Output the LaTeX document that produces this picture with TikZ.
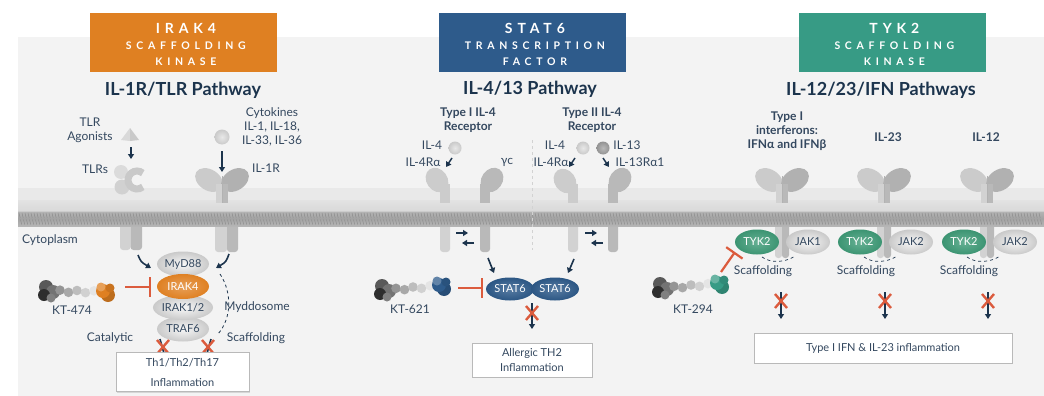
\documentclass[tikz,border=0pt]{standalone}
\usepackage{fontspec}
\setmainfont{Lato}
\usetikzlibrary{arrows.meta,shapes.geometric,shadows}

\definecolor{navy}{HTML}{1C344D}
\definecolor{ink}{HTML}{34485F}
\definecolor{irakc}{HTML}{DF8022}
\definecolor{statc}{HTML}{2E5B8B}
\definecolor{tykc}{HTML}{379B85}
\definecolor{tykprot}{HTML}{3F9C78}
\definecolor{redc}{HTML}{DB5B3D}
\definecolor{panel}{HTML}{F3F3F3}
\definecolor{lobeL}{HTML}{CBCBCB}
\definecolor{lobeR}{HTML}{B1B1B1}
\definecolor{stalkL}{HTML}{D2D2D2}
\definecolor{stalkR}{HTML}{B9B9B9}

\tikzset{
  lbl/.style={text=ink, font=\fontsize{12}{14}\selectfont, align=center, inner sep=0},
  lblb/.style={lbl, font=\fontsize{12}{14}\selectfont\bfseries},
  ttl/.style={text=navy, font=\fontsize{18}{20}\selectfont\bfseries, inner sep=0},
  hdrbox/.style={minimum width=187, minimum height=59, inner sep=0},
  hdrbig/.style={text=white, font=\fontsize{14}{16}\selectfont\bfseries\addfontfeature{LetterSpace=35}, inner sep=0, xshift=2.4},
  hdrsmall/.style={text=white, font=\fontsize{10.5}{12}\selectfont\bfseries\addfontfeature{LetterSpace=45}, inner sep=0, xshift=2.4},
  arr/.style={draw=navy, line width=1.6pt, -{Triangle[width=6pt,length=5pt]}},
  inhibit/.style={draw=redc, line width=2.2pt, -{Bar[width=20pt,line width=2.2pt]}},
  xmark/.style={draw=redc, line width=2.4pt},
  prot/.style={ellipse, minimum width=52, minimum height=25, inner sep=0, font=\fontsize{11}{12}\selectfont},
  greyprot/.style={prot, inner color=white!94!gray, outer color=gray!42, text=ink},
  outbox/.style={draw=gray!55, fill=white, line width=0.8pt, inner sep=0,
    drop shadow={opacity=0.25, shadow xshift=1pt, shadow yshift=-1pt},
    align=center, text=ink, font=\fontsize{11}{15}\selectfont},
  ligand/.style={circle, minimum size=13, inner sep=0, inner color=gray!18, outer color=gray!42},
  darkligand/.style={ligand, inner color=gray!55, outer color=gray!85},
}

% receptor with two leaf-shaped lobes above the membrane, stalk at x = #1
\newcommand\leafreceptor[1]{%
  \fill[lobeL, rotate around={-32:(#1-13,180)}] (#1-13,180) ellipse [x radius=15, y radius=10.5];
  \fill[lobeR, rotate around={32:(#1+13,180)}] (#1+13,180) ellipse [x radius=15, y radius=10.5];
  \fill[stalkL] (#1-6,184) rectangle (#1,203);
  \fill[stalkR] (#1,184) rectangle (#1+6,203);
  \draw[gray!60, line width=0.6] (#1,176) -- (#1,203);
}
% single-chain receptor: stalk at x = #1, head centre (#2,#3), tilt #4, colour #5
\newcommand\lollireceptor[5]{%
  \fill[#5] (#1-5,184) rectangle (#1+5,203);
  \fill[#5, rotate around={#4:(#2,#3)}] (#2,#3) ellipse [x radius=10.5, y radius=13];
}
% intracellular stalk between x = #1 and #2, down to y = #3, shade #4
\newcommand\lowstalk[4]{%
  \fill[#4, rounded corners=3] (#1,212) rectangle (#2,#3);
}
% bivalent degrader: dark ligand at (#1,#2), linker, warhead at (#3,#4) in colour #5
\newcommand\degrader[5]{%
  \fill[black!65] (#1-3,#2-4) circle (7);
  \fill[black!55] (#1+4,#2+1) circle (7);
  \fill[black!82] (#1-5,#2+4) circle (6);
  \fill[black!50] (#1+2,#2+7) circle (4.5);
  \foreach \k in {0,...,4}{
    \pgfmathsetmacro\lx{#1+11+\k*(#3-#1-22)/4}
    \pgfmathsetmacro\ly{#2+(#4-#2)*(\k+1)/6+mod(\k,2)*2-1}
    \pgfmathsetmacro\lc{int(42-8*\k)}
    \fill[black!\lc] (\lx,\ly) circle (4.8);
  }
  \fill[#5!85!black] (#3+3,#4+3) circle (7);
  \fill[#5] (#3-2,#4-1) circle (7);
  \fill[#5!75!white] (#3-4,#4-5) circle (4.5);
  \fill[#5!90!black] (#3+5,#4-4) circle (4.5);
}
% blocked signal: arrow #1a -> #1b with a red cross at (#6,#7)
\newcommand\blocked[7]{%
  \coordinate (#1a) at (#2,#3);
  \coordinate (#1b) at (#4,#5);
  \draw[arr] (#1a) -- (#1b);
  \draw[xmark] (#6-6,#7-7) -- (#6+6,#7+7) (#6-6,#7+7) -- (#6+6,#7-7);
}

\begin{document}
\begin{tikzpicture}[x=1pt,y=-1pt]
\useasboundingbox (0,0) rectangle (1044,396);
\fill[white] (0,0) rectangle (1044,396);
\fill[panel] (18,37) rectangle (1044,396);

% ---------- intracellular receptor stalks ----------
\lowstalk{120}{130.5}{250}{stalkL}
\lowstalk{130.5}{142}{250}{stalkR}
\lowstalk{215}{227}{252}{stalkL}
\lowstalk{227}{238}{252}{stalkR}
\lowstalk{440}{450}{252}{stalkL}
\lowstalk{480}{490}{252}{stalkR}
\lowstalk{568}{578}{252}{stalkL}
\lowstalk{608}{618}{252}{stalkR}
\foreach \sx in {782,884,987}{
  \lowstalk{\sx-7}{\sx}{258}{stalkL}
  \lowstalk{\sx}{\sx+7}{258}{stalkR}
}

% ---------- membrane ----------
\fill[gray!17] (18,188) rectangle (1044,200);
\shade[top color=gray!22, bottom color=gray!30] (18,200) rectangle (1044,211);
\shade[top color=gray!58, bottom color=gray!58, middle color=gray!72] (18,211) rectangle (1044,226);
\foreach \i in {0,...,340}{
  \draw[black!45, line width=0.5] (19+3*\i,213) -- ++(1.2,5);
  \draw[black!45, line width=0.5] (20.5+3*\i,219.5) -- ++(1.2,5);
}
\draw[gray!40, line width=0.5] (18,211) -- (1044,211);

% ---------- header boxes ----------
\node[hdrbox, fill=irakc] (irakbox) at (183.5,42.5) {};
\node[hdrbig] (irakname) at (183.5,28) {IRAK4};
\node[hdrsmall] (irakrole) at (183.5,46) {SCAFFOLDING};
\node[hdrsmall] (irakkind) at (183.5,62) {KINASE};

\node[hdrbox, fill=statc] (statbox) at (532.5,42.5) {};
\node[hdrbig] (statname) at (532.5,28) {STAT6};
\node[hdrsmall] (statrole) at (532.5,46) {TRANSCRIPTION};
\node[hdrsmall] (statkind) at (532.5,62) {FACTOR};

\node[hdrbox, fill=tykc] (tykbox) at (892,42.5) {};
\node[hdrbig] (tykname) at (892,28) {TYK2};
\node[hdrsmall] (tykrole) at (892,46) {SCAFFOLDING};
\node[hdrsmall] (tykkind) at (892,62) {KINASE};

\node[ttl] (irakttl) at (183,90) {IL-1R/TLR Pathway};
\node[ttl] (statttl) at (530,89) {IL-4/13 Pathway};
\node[ttl] (tykttl) at (881,90) {IL-12/23/IFN Pathways};

% ================= IL-1R / TLR =================
\node[lbl] (tlragon) at (90,130) {TLR\\Agonists};
\fill[gray!30] (121,140) -- (130,128) -- (130,141) -- cycle;
\fill[gray!42] (130,128) -- (139,140) -- (130,141) -- cycle;
\coordinate (tlrin) at (131,147);
\coordinate (tlrtop) at (131,159);
\draw[arr] (tlrin) -- (tlrtop);
\node[lbl] (tlrs) at (95,169) {TLRs};
% toll-like receptor ectodomain
\fill[gray!28] (121,172) circle (7);
\fill[gray!36] (122,187) circle (7.5);
\draw[gray!42, line width=7pt] (137,180) ++(50:9) arc[start angle=50, end angle=310, radius=9];

\node[ligand, minimum size=15] (il1lig) at (222,137) {};
\coordinate (il1in) at (222,151);
\coordinate (il1top) at (222,172);
\draw[arr] (il1in) -- (il1top);
\node[lbl] (cytok) at (272,127) {Cytokines\\IL-1, IL-18,\\IL-33, IL-36};
\node[lbl] (il1rlbl) at (266,168) {IL-1R};
\leafreceptor{222}

\node[lbl] (cyto) at (50,240) {Cytoplasm};

% myddosome
\node[greyprot] (traf6) at (183,329) {TRAF6};
\node[greyprot] (irak12) at (183,307.5) {IRAK1/2};
\node[greyprot] (myd88) at (183,264) {MyD88};
\node[prot, inner color=irakc!75!white, outer color=irakc, text=white] (irak4) at (183,286.5) {IRAK4};

\coordinate (tlrout) at (138,255);
\coordinate (tlrend) at (151,268);
\draw[arr] (tlrout) .. controls (141,262) .. (tlrend);
\coordinate (il1out) at (229,254);
\coordinate (il1end) at (216,268);
\draw[arr] (il1out) .. controls (226,262) .. (il1end);

\degrader{49}{291}{105}{292}{irakc}
\node[lbl] (kt474) at (72,310) {KT-474};
\coordinate (kt474arm) at (125,287);
\coordinate (kt474stop) at (151,287);
\draw[inhibit] (kt474arm) -- (kt474stop);

\coordinate (mydtop) at (220,274);
\coordinate (mydbot) at (218,334);
\draw[navy, dashed, line width=0.8] (mydtop) .. controls (232,292) and (232,318) .. (mydbot);
\node[lbl] (myddo) at (257,307) {Myddosome};
\node[lbl] (catal) at (110,338) {Catalytic};
\node[lbl] (scaf1) at (256,338) {Scaffolding};

\blocked{cat}{160}{339}{165}{357}{163}{347}
\blocked{scf}{211}{339}{206}{357}{208}{347}
\node[outbox, minimum width=133, minimum height=39, font=\fontsize{11}{20}\selectfont] (thbox) at (182.5,372) {Th1/Th2/Th17\\Inflammation};

% ================= IL-4 / IL-13 =================
\node[lblb] (type1) at (468,120) {Type I IL-4\\Receptor};
\node[lblb] (type2) at (592,120) {Type II IL-4\\Receptor};
\draw[gray!35, dashed, line width=0.8] (532,140) -- (532,250);

\node[lbl] (il4a) at (432,145) {IL-4};
\node[ligand] (il4lig) at (455,148) {};
\node[lbl] (il4ra) at (423,162) {IL-4Rα};
\coordinate (r1a) at (452,158); \coordinate (r1b) at (446,167);
\draw[arr, line width=1.4pt] (r1a) -- (r1b);
\node[lbl] (gc) at (507,162) {γc};

\node[lbl] (il4b) at (555,145) {IL-4};
\node[ligand] (il4ligb) at (583,148) {};
\node[darkligand] (il13lig) at (603,148) {};
\node[lbl] (il13) at (627,145) {IL-13};
\node[lbl] (il4rb) at (551,162) {IL-4Rα};
\coordinate (r2a) at (575,158); \coordinate (r2b) at (569,167);
\draw[arr, line width=1.4pt] (r2a) -- (r2b);
\coordinate (r3a) at (603,158); \coordinate (r3b) at (609,167);
\draw[arr, line width=1.4pt] (r3a) -- (r3b);
\node[lbl] (il13r) at (640,162) {IL-13Rα1};

\lollireceptor{445}{437}{180}{35}{gray!40}
\lollireceptor{485}{492}{180}{-35}{gray!55}
\lollireceptor{573}{565}{181}{35}{gray!40}
\lollireceptor{613}{620}{180}{-35}{gray!55}

% receptor trans-activation
\coordinate (p1a) at (456,233); \coordinate (p1b) at (468,233);
\draw[arr, line width=1.3pt] (p1a) -- (p1b);
\coordinate (p2a) at (474,243); \coordinate (p2b) at (462,243);
\draw[arr, line width=1.3pt] (p2a) -- (p2b);
\coordinate (p3a) at (585,233); \coordinate (p3b) at (597,233);
\draw[arr, line width=1.3pt] (p3a) -- (p3b);
\coordinate (p4a) at (603,243); \coordinate (p4b) at (591,243);
\draw[arr, line width=1.3pt] (p4a) -- (p4b);

\node[prot, minimum width=48, minimum height=23, inner color=statc!80!white, outer color=statc!95!black, text=white] (stat6a) at (510,289) {STAT6};
\node[prot, minimum width=48, minimum height=23, inner color=statc!80!white, outer color=statc!95!black, text=white] (stat6b) at (555,289) {STAT6};
\coordinate (s1a) at (488,258); \coordinate (s1b) at (494,273);
\draw[arr] (s1a) -- (s1b);
\coordinate (s2a) at (574,259); \coordinate (s2b) at (568,273);
\draw[arr] (s2a) -- (s2b);

\degrader{385}{290}{441}{286}{statc}
\node[lbl] (kt621) at (410,309) {KT-621};
\coordinate (kt621arm) at (458,288);
\coordinate (kt621stop) at (483,288);
\draw[inhibit] (kt621arm) -- (kt621stop);

\blocked{st}{532}{303}{532}{329}{532}{313}
\node[outbox, minimum width=120, minimum height=34] (th2box) at (532,360) {Allergic TH2\\Inflammation};

% ================= IL-12 / IL-23 / IFN =================
\node[lblb] (ifn) at (787,131) {Type I\\interferons:\\IFNα and IFNβ};
\node[lblb] (il23) at (888,137) {IL-23};
\node[lblb] (il12) at (986,137) {IL-12};
\leafreceptor{782}
\leafreceptor{884}
\leafreceptor{987}

\node[prot, minimum width=44, inner color=tykprot!80!white, outer color=tykprot!95!black, text=white] (tyk2a) at (757,242) {TYK2};
\node[greyprot, minimum width=44] (jak1) at (808,242) {JAK1};
\node[prot, minimum width=44, inner color=tykprot!80!white, outer color=tykprot!95!black, text=white] (tyk2b) at (860,242) {TYK2};
\node[greyprot, minimum width=44] (jak2b) at (911,242) {JAK2};
\node[prot, minimum width=44, inner color=tykprot!80!white, outer color=tykprot!95!black, text=white] (tyk2c) at (964,242) {TYK2};
\node[greyprot, minimum width=44] (jak2c) at (1015,242) {JAK2};

\foreach \sx/\nm in {782/a,884/b,987/c}{
  \coordinate (sm\nm l) at (\sx-20,257);
  \coordinate (sm\nm r) at (\sx+13,256);
  \draw[navy, dashed, line width=0.7] (sm\nm l) .. controls (\sx-12,263) and (\sx+3,263) .. (sm\nm r);
}
\node[lbl] (scafa) at (763,271) {Scaffolding};
\node[lbl] (scafb) at (866,271) {Scaffolding};
\node[lbl] (scafc) at (969,271) {Scaffolding};

\blocked{ta}{781}{292}{781}{319}{781}{301}
\blocked{tb}{885}{292}{885}{319}{885}{301}
\blocked{tc}{988}{292}{988}{319}{988}{301}
\node[outbox, minimum width=258, minimum height=30] (ifnbox) at (883,348) {Type I IFN \& IL-23 inflammation};

\degrader{663}{288}{719}{284}{tykc}
\node[lbl] (kt294) at (693,309) {KT-294};
\coordinate (kt294arm) at (721,272);
\coordinate (kt294stop) at (735,252);
\draw[inhibit] (kt294arm) -- (kt294stop);
\end{tikzpicture}
\end{document}
